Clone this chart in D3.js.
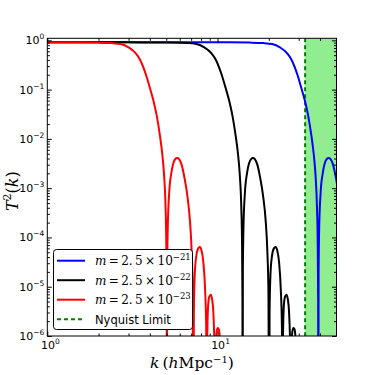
<!DOCTYPE html>
<html>
<head>
<meta charset="utf-8">
<script src="https://cdn.jsdelivr.net/npm/d3@7/dist/d3.min.js"></script>
<style>
body { margin: 0; background: #fff; }
</style>
</head>
<body>
<div id="chart"></div>
<script>
// values (k in h/Mpc, T^2)
var kRed = [1.0, 1.5, 2.0, 2.4, 2.7, 3.0, 3.3, 3.5, 3.8, 4.0, 4.2, 4.4, 4.6, 4.75, 4.85, 4.95, 5.0, 5.03, 5.04,
	5.06, 5.1, 5.2, 5.35, 5.5, 5.65, 5.8, 5.95, 6.15, 6.4, 6.65, 6.9, 7.05, 7.15, 7.22,
	7.26, 7.35, 7.5, 7.7, 7.87, 8.05, 8.25, 8.45, 8.58, 8.65,
	8.69, 8.8, 8.95, 9.12, 9.3, 9.45, 9.6, 9.68,
	9.74, 9.85, 10.0, 10.15, 10.35, 10.5, 10.55, 10.7];
var tRed = [0.91, 0.91, 0.90, 0.88, 0.84, 0.72, 0.55, 0.41, 0.2, 0.11, 0.06, 0.029, 0.011, 4.5e-3, 1.9e-3, 4.2e-4, 8e-5, 5e-6, 1e-9,
	2e-5, 1.5e-4, 8e-4, 2e-3, 3.2e-3, 3.9e-3, 4.1e-3, 3.9e-3, 3.0e-3, 1.6e-3, 7e-4, 2e-4, 5e-5, 8e-6, 1e-9,
	3e-6, 1.8e-5, 4.2e-5, 6.0e-5, 6.4e-5, 5.5e-5, 3.2e-5, 9e-6, 1.5e-6, 1e-9,
	6e-7, 4e-6, 6.3e-6, 6.9e-6, 5.5e-6, 3e-6, 5e-7, 1e-9,
	3e-7, 1.1e-6, 1.45e-6, 1.4e-6, 8e-7, 1e-7, 1e-9, 1e-9];

var kBlack = [1.0, 3.0, 5.0, 6.68, 7.52, 8.36, 9.19, 9.75, 10.58, 11.14, 11.7, 12.25, 12.81, 13.23, 13.51, 13.79, 13.93, 14.01, 14.04,
	14.09, 14.2, 14.48, 14.9, 15.32, 15.74, 16.15, 16.57, 17.13, 17.82, 18.52, 19.22, 19.63, 19.91, 20.11,
	20.22, 20.47, 20.89, 21.44, 21.92, 22.42, 22.98, 23.53, 23.9, 24.09,
	24.2, 24.51, 24.93, 25.4, 25.9, 26.32, 26.74, 26.96,
	27.12, 27.43, 27.85, 28.27, 28.82, 29.24, 29.38, 29.8];
var tBlack = [0.91, 0.91, 0.90, 0.88, 0.84, 0.72, 0.55, 0.41, 0.2, 0.11, 0.06, 0.029, 0.011, 4.5e-3, 1.9e-3, 4.2e-4, 8e-5, 5e-6, 1e-9,
	2e-5, 1.5e-4, 8e-4, 2e-3, 3.2e-3, 3.9e-3, 4.1e-3, 3.9e-3, 3.0e-3, 1.6e-3, 7e-4, 2e-4, 5e-5, 8e-6, 1e-9,
	3e-6, 1.8e-5, 4.2e-5, 6.0e-5, 6.4e-5, 5.5e-5, 3.2e-5, 9e-6, 1.5e-6, 1e-9,
	6e-7, 4e-6, 6.3e-6, 6.9e-6, 5.5e-6, 3e-6, 5e-7, 1e-9,
	3e-7, 1.1e-6, 1.45e-6, 1.4e-6, 8e-7, 1e-7, 1e-9, 1e-9];

var kBlue = [1.0, 5.0, 11.63, 15.51, 18.6, 20.94, 23.27, 25.6, 27.15, 29.47, 31.02, 32.58, 34.13, 35.68, 36.84, 37.62, 38.39, 38.78, 39.01, 39.09,
	39.25, 39.56, 40.33, 41.5, 42.66, 43.82, 44.98, 46.15, 47.7, 49.64, 51.58];
var tBlue = [0.91, 0.91, 0.91, 0.90, 0.88, 0.84, 0.72, 0.55, 0.41, 0.2, 0.11, 0.06, 0.029, 0.011, 4.5e-3, 1.9e-3, 4.2e-4, 8e-5, 5e-6, 1e-9,
	2e-5, 1.5e-4, 8e-4, 2e-3, 3.2e-3, 3.9e-3, 4.1e-3, 3.9e-3, 3.0e-3, 1.6e-3, 7e-4];

var seriesExps = ["\u221221", "\u221222", "\u221223"];
var seriesColors = ["#0000ff", "#000000", "#ff0000"];
var nyquistK = 32.7;
var kMax = 50;

var xMajor = [1, 10];
var xMinor = [2, 3, 4, 5, 6, 7, 8, 9, 20, 30, 40];
var xExps = ["0", "1"];
var yMajor = [1e-6, 1e-5, 1e-4, 1e-3, 1e-2, 1e-1, 1];
var yExps = ["\u22126", "\u22125", "\u22124", "\u22123", "\u22122", "\u22121", "0"];

var W = 375, H = 375;
var pLeft = 47.3, pRight = 336.5, pTop = 38.3, pBottom = 336;

var svg = d3.select("#chart").append("svg")
	.attr("width", W)
	.attr("height", H)
	.style("font-family", "DejaVu Sans");

var x = d3.scaleLog().domain([1, kMax]).range([pLeft, pRight]);
var y = d3.scaleLog().domain([1e-6, 1.1]).range([pBottom, pTop]);

var yMinor = [];
yMajor.slice(0, -1).forEach(function(d) {
	for (var i = 2; i < 10; i++) yMinor.push(d * i);
});

svg.append("defs").append("clipPath").attr("id", "clip")
	.append("rect")
	.attr("x", pLeft).attr("y", pTop)
	.attr("width", pRight - pLeft).attr("height", pBottom - pTop);

var plot = svg.append("g").attr("clip-path", "url(#clip)");

// shaded region past Nyquist
plot.append("rect")
	.attr("x", x(nyquistK))
	.attr("y", pTop)
	.attr("width", x(kMax) - x(nyquistK))
	.attr("height", pBottom - pTop)
	.attr("fill", "#90ee90");

plot.append("line")
	.attr("x1", x(nyquistK)).attr("x2", x(nyquistK))
	.attr("y1", pTop).attr("y2", pBottom)
	.attr("stroke", "#008000")
	.attr("stroke-width", 2)
	.attr("stroke-dasharray", "4,3");

var line = d3.line()
	.x(function(d) { return x(d[0]); })
	.y(function(d) { return y(d[1]); })
	.curve(d3.curveMonotoneX);

var series = [d3.zip(kBlue, tBlue), d3.zip(kBlack, tBlack), d3.zip(kRed, tRed)];
series.forEach(function(s, i) {
	plot.append("path")
		.datum(s)
		.attr("d", line)
		.attr("fill", "none")
		.attr("stroke", seriesColors[i])
		.attr("stroke-width", 2);
});

// ticks on all four sides, pointing in
function ticks(axis, vals, size, tx) {
	var g = svg.append("g")
		.attr("transform", tx)
		.call(axis.tickValues(vals).tickSize(size).tickFormat(""));
	g.select(".domain").remove();
	g.selectAll("line").attr("stroke", "#000").attr("stroke-width", 1);
}
ticks(d3.axisBottom(x), xMajor, -4.5, "translate(0," + pBottom + ")");
ticks(d3.axisBottom(x), xMinor, -2.5, "translate(0," + pBottom + ")");
ticks(d3.axisTop(x), xMajor, -4.5, "translate(0," + pTop + ")");
ticks(d3.axisTop(x), xMinor, -2.5, "translate(0," + pTop + ")");
ticks(d3.axisLeft(y), yMajor, -4.5, "translate(" + pLeft + ",0)");
ticks(d3.axisLeft(y), yMinor, -2.5, "translate(" + pLeft + ",0)");
ticks(d3.axisRight(y), yMajor, -4.5, "translate(" + pRight + ",0)");
ticks(d3.axisRight(y), yMinor, -2.5, "translate(" + pRight + ",0)");

svg.append("rect")
	.attr("x", pLeft).attr("y", pTop)
	.attr("width", pRight - pLeft).attr("height", pBottom - pTop)
	.attr("fill", "none")
	.attr("stroke", "#000")
	.attr("stroke-width", 1);

// tick labels
xMajor.forEach(function(d, i) {
	var t = svg.append("text")
		.attr("x", x(d) + 3)
		.attr("y", pBottom + 12.5)
		.attr("text-anchor", "middle")
		.attr("font-size", 11);
	t.append("tspan").text("10");
	t.append("tspan").attr("dy", -5).attr("font-size", 7.5).text(xExps[i]);
});
yMajor.forEach(function(d, i) {
	var t = svg.append("text")
		.attr("x", pLeft - 3)
		.attr("y", y(d) + 4)
		.attr("text-anchor", "end")
		.attr("font-size", 11);
	t.append("tspan").text("10");
	t.append("tspan").attr("dy", -5).attr("font-size", 7.5).text(yExps[i]);
});

// axis labels
var xl = svg.append("text")
	.attr("x", (pLeft + pRight) / 2)
	.attr("y", 368)
	.attr("text-anchor", "middle")
	.attr("font-family", "DejaVu Serif")
	.attr("font-size", 15.5);
xl.append("tspan").attr("font-style", "italic").text("k");
xl.append("tspan").text("\u2009(");
xl.append("tspan").attr("font-style", "italic").text("h");
xl.append("tspan").text("Mpc");
xl.append("tspan").attr("dy", -5.5).attr("font-size", 10).text("\u22121");
xl.append("tspan").attr("dy", 5.5).text(")");

var yl = svg.append("text")
	.attr("transform", "translate(18," + ((pTop + pBottom) / 2 + 4) + ") rotate(-90)")
	.attr("text-anchor", "middle")
	.attr("font-family", "DejaVu Serif")
	.attr("font-size", 16);
yl.append("tspan").attr("font-style", "italic").text("T");
yl.append("tspan").attr("dy", -7).attr("font-size", 11).text("2");
yl.append("tspan").attr("dy", 7).text("(");
yl.append("tspan").attr("font-style", "italic").text("k");
yl.append("tspan").text(")");

// legend
var legend = svg.append("g");
legend.append("rect")
	.attr("x", 53.5).attr("y", 249.5)
	.attr("width", 139).attr("height", 80)
	.attr("rx", 3)
	.attr("fill", "#fff")
	.attr("stroke", "#000")
	.attr("stroke-width", 1);

var rowY = [260.7, 280.2, 299.7, 319.3];
seriesExps.forEach(function(e, i) {
	legend.append("line")
		.attr("x1", 57).attr("x2", 85)
		.attr("y1", rowY[i]).attr("y2", rowY[i])
		.attr("stroke", seriesColors[i])
		.attr("stroke-width", 2);
	var t = legend.append("text")
		.attr("x", 95)
		.attr("y", rowY[i] + 4.5)
		.attr("font-family", "DejaVu Serif")
		.attr("font-size", 12);
	t.append("tspan").attr("font-style", "italic").text("m");
	t.append("tspan").text("\u2009=\u20092.\u20095\u2009\u00d7\u200910");
	t.append("tspan").attr("dy", -5).attr("font-size", 8.5).text(e);
});
legend.append("line")
	.attr("x1", 57).attr("x2", 85)
	.attr("y1", rowY[3]).attr("y2", rowY[3])
	.attr("stroke", "#008000")
	.attr("stroke-width", 2)
	.attr("stroke-dasharray", "4,3");
legend.append("text")
	.attr("x", 95)
	.attr("y", rowY[3] + 4.5)
	.attr("font-size", 11.5)
	.text("Nyquist Limit");
</script>
</body>
</html>
